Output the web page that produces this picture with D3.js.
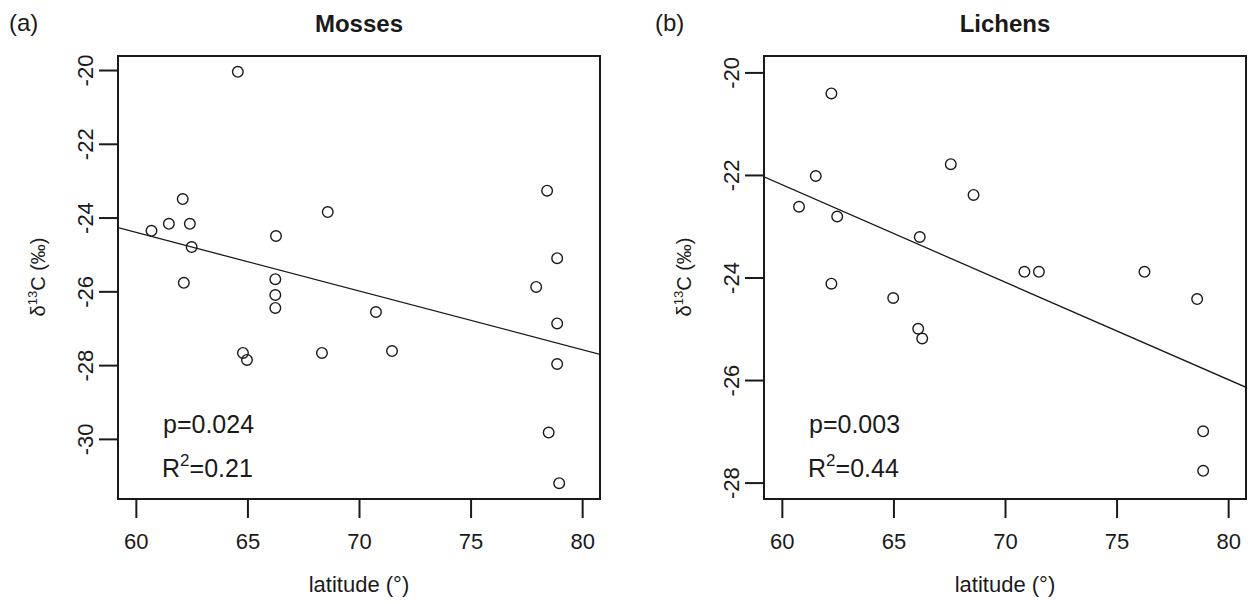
<!DOCTYPE html>
<html>
<head>
<meta charset="utf-8">
<script src="https://cdn.jsdelivr.net/npm/d3@7"></script>
<style>
  body { margin: 0; background: #fff; }
  svg { display: block; font-family: "Liberation Sans", Arial, sans-serif; }
  .tick text { fill: #1a1a1a; }
</style>
</head>
<body>
<svg id="chart" width="1253" height="604"></svg>
<script>
// Mosses (panel a)
const mossLat = [64.57, 62.1, 61.48, 62.42, 60.7, 62.5, 66.28, 68.6, 62.15, 66.25,
  66.25, 66.25, 70.76, 64.8, 64.98, 68.34, 71.48,
  78.43, 78.88, 77.94, 78.88, 78.88, 78.5, 78.97];
const mossD13C = [-20.05, -23.5, -24.17, -24.17, -24.36, -24.8, -24.5, -23.85, -25.77, -25.67,
  -26.1, -26.45, -26.56, -27.67, -27.86, -27.67, -27.62,
  -23.27, -25.1, -25.88, -26.87, -27.97, -29.83, -31.2];

// Lichens (panel b)
const lichenLat = [62.22, 61.52, 67.57, 68.59, 60.77, 62.48, 66.18, 70.87, 71.52, 76.25,
  62.22, 64.99, 78.61, 66.11, 66.29, 78.88, 78.88];
const lichenD13C = [-20.41, -22.02, -21.79, -22.39, -22.62, -22.81, -23.21, -23.89, -23.89, -23.89,
  -24.12, -24.4, -24.42, -25.0, -25.19, -27.0, -27.77];

// regression lines: value at 60 deg and slope per deg
const mossFit = [-24.40, -0.159];
const lichenFit = [-22.19, -0.190];

const xTicks = [60, 65, 70, 75, 80];
const mossYTicks = [-20, -22, -24, -26, -28, -30];
const lichenYTicks = [-20, -22, -24, -26, -28];

const panelLetters = ['(a)', '(b)'];
const panelTitles = ['Mosses', 'Lichens'];
const pValues = ['p=0.024', 'p=0.003'];
const r2Values = ['=0.21', '=0.44'];

const svg = d3.select('#chart');
const ink = '#1a1a1a';
const tickLen = 19;
const plainNum = d => String(d); // R prints a plain hyphen, not d3's unicode minus

function drawPanel(p) {
  const x = d3.scaleLinear().domain([59.2, 80.8]).range([p.left, p.left + 482]);
  const y = d3.scaleLinear().domain(p.yDomain).range([499, 56]);
  const g = svg.append('g');

  // panel letter and title
  g.append('text')
    .attr('x', p.left - 109)
    .attr('y', 31)
    .attr('font-size', 24)
    .attr('fill', ink)
    .text(p.letter);

  g.append('text')
    .attr('x', p.left + 241)
    .attr('y', 32)
    .attr('text-anchor', 'middle')
    .attr('font-size', 24)
    .attr('font-weight', 'bold')
    .attr('fill', ink)
    .text(p.title);

  // x axis
  const xAxis = g.append('g')
    .attr('transform', 'translate(0,499)')
    .call(d3.axisBottom(x).tickValues(xTicks).tickSize(tickLen).tickFormat(plainNum));
  xAxis.select('.domain').remove();
  xAxis.selectAll('line').attr('stroke', ink).attr('stroke-width', 2);
  xAxis.selectAll('text')
    .attr('y', 50).attr('dy', 0)
    .attr('font-size', 22)
    .attr('font-family', '"Liberation Sans", Arial, sans-serif');

  // y axis, labels turned upright like R's default
  const yAxis = g.append('g')
    .attr('transform', `translate(${p.left},0)`)
    .call(d3.axisLeft(y).tickValues(p.yTicks).tickSize(tickLen).tickFormat(plainNum));
  yAxis.select('.domain').remove();
  yAxis.selectAll('line').attr('stroke', ink).attr('stroke-width', 2);
  yAxis.selectAll('text')
    .attr('x', 0).attr('y', -25).attr('dy', 0)
    .attr('text-anchor', 'middle')
    .attr('transform', 'rotate(-90)')
    .attr('font-size', 22)
    .attr('font-family', '"Liberation Sans", Arial, sans-serif');

  // axis titles
  g.append('text')
    .attr('x', p.left + 241)
    .attr('y', 592)
    .attr('text-anchor', 'middle')
    .attr('font-size', 22)
    .attr('fill', ink)
    .text('latitude (°)');

  const yl = g.append('text')
    .attr('transform', `translate(${p.left - 73},277) rotate(-90)`)
    .attr('text-anchor', 'middle')
    .attr('font-size', 20)
    .attr('fill', ink);
  yl.append('tspan').text('δ');
  yl.append('tspan').attr('font-size', 13).attr('dy', -8).text('13');
  yl.append('tspan').attr('dy', 8).text('C (‰)');

  // regression line, clipped to the plot box
  const clipId = 'clip-' + p.key;
  g.append('clipPath').attr('id', clipId)
    .append('rect').attr('x', p.left).attr('y', 56).attr('width', 482).attr('height', 443);
  const fitAt = lat => p.fit[0] + p.fit[1] * (lat - 60);
  g.append('line')
    .attr('clip-path', `url(#${clipId})`)
    .attr('x1', x(59.2)).attr('y1', y(fitAt(59.2)))
    .attr('x2', x(80.8)).attr('y2', y(fitAt(80.8)))
    .attr('stroke', ink)
    .attr('stroke-width', 1.3);

  // points
  g.append('g')
    .selectAll('circle')
    .data(p.lat.map((d, i) => [d, p.val[i]]))
    .join('circle')
    .attr('cx', d => x(d[0]))
    .attr('cy', d => y(d[1]))
    .attr('r', 5.3)
    .attr('fill', 'none')
    .attr('stroke', ink)
    .attr('stroke-width', 1.4);

  // stats
  g.append('text')
    .attr('x', p.left + 45)
    .attr('y', 433)
    .attr('font-size', 25)
    .attr('fill', ink)
    .text(p.pText);
  const r2 = g.append('text')
    .attr('x', p.left + 44)
    .attr('y', 477)
    .attr('font-size', 25)
    .attr('fill', ink);
  r2.append('tspan').text('R');
  r2.append('tspan').attr('font-size', 17).attr('dy', -11).text('2');
  r2.append('tspan').attr('dy', 11).text(p.r2Text);

  // plot box
  g.append('rect')
    .attr('x', p.left).attr('y', 56)
    .attr('width', 482).attr('height', 443)
    .attr('fill', 'none')
    .attr('stroke', ink)
    .attr('stroke-width', 2);
}

drawPanel({
  key: 'moss', left: 118, letter: panelLetters[0], title: panelTitles[0],
  lat: mossLat, val: mossD13C, fit: mossFit,
  yDomain: [-31.63, -19.62], yTicks: mossYTicks,
  pText: pValues[0], r2Text: r2Values[0]
});

drawPanel({
  key: 'lichen', left: 764, letter: panelLetters[1], title: panelTitles[1],
  lat: lichenLat, val: lichenD13C, fit: lichenFit,
  yDomain: [-28.32, -19.68], yTicks: lichenYTicks,
  pText: pValues[1], r2Text: r2Values[1]
});
</script>
</body>
</html>
